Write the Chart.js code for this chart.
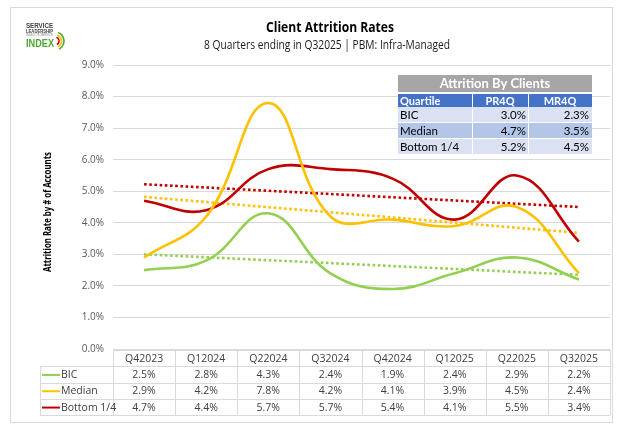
<!DOCTYPE html>
<html><head><meta charset="utf-8">
<script src="https://cdn.jsdelivr.net/npm/chart.js@4.4.1/dist/chart.umd.min.js"></script>
<style>html,body{margin:0;padding:0;background:#fff;}#wrap{position:relative;width:624px;height:430px;}</style>
</head><body><div id="wrap"><canvas id="c" width="624" height="430"></canvas></div>
<script>
const categories = ['Q42023','Q12024','Q22024','Q32024','Q42024','Q12025','Q22025','Q32025'];
const bic    = [2.5, 2.8, 4.3, 2.4, 1.9, 2.4, 2.9, 2.2];
const median = [2.9, 4.2, 7.8, 4.2, 4.1, 3.9, 4.5, 2.4];
const bottom = [4.7, 4.4, 5.7, 5.7, 5.4, 4.1, 5.5, 3.4];
// trendline endpoints (first and last quarter)
const trendBIC    = [3.0, 2.35];
const trendMedian = [4.82, 3.68];
const trendBottom = [5.22, 4.5];
const seriesNames = ['BIC', 'Median', 'Bottom 1/4'];
const yMin = 0, yMax = 9, yStep = 1;
const insetTitle = 'Attrition By Clients';
const insetHeaders = ['Quartile', 'PR4Q', 'MR4Q'];
const insetQuartiles = ['BIC', 'Median', 'Bottom 1/4'];
const insetPR4Q = ['3.0%', '4.7%', '5.2%'];
const insetMR4Q = ['2.3%', '3.5%', '4.5%'];
const titleText = 'Client Attrition Rates';
const subtitleText = '8 Quarters ending in Q32025 | PBM: Infra-Managed';
const yTitleText = 'Attrition Rate by # of Accounts';

const COLORS = ['#92D050', '#FFC000', '#C00000'];
const FONT = '"Open Sans", "Noto Sans", sans-serif';
const seriesData = [bic, median, bottom];
const trendData = [trendBIC, trendMedian, trendBottom];
const fmt = v => v.toFixed(1) + '%';

const datasets = [];
seriesData.forEach((d, i) => {
  datasets.push({label: seriesNames[i], data: d, borderColor: COLORS[i], backgroundColor: COLORS[i],
    borderWidth: 2.6, pointRadius: 0, tension: 0.42, fill: false, order: 1});
});
trendData.forEach((t, i) => {
  datasets.push({label: seriesNames[i] + ' trend',
    data: [{x: categories[0], y: t[0]}, {x: categories[categories.length - 1], y: t[1]}],
    borderColor: COLORS[i], borderWidth: 2.6, borderDash: [2.6, 2.6], borderCapStyle: 'butt',
    pointRadius: 0, tension: 0, fill: false, order: 2});
});

const decor = {
  id: 'decor',
  beforeDraw(chart) {
    const ctx = chart.ctx;
    ctx.save();
    ctx.fillStyle = '#fff';
    ctx.fillRect(0, 0, chart.width, chart.height);
    ctx.strokeStyle = '#D9D9D9';
    ctx.lineWidth = 1;
    ctx.strokeRect(10.5, 7.5, 602, 415);
    ctx.restore();
  },
  afterDraw(chart) {
    const ctx = chart.ctx;
    const ca = chart.chartArea;
    const xs = chart.scales.x;
    ctx.save();
    // ---- logo ----
    ctx.textBaseline = 'alphabetic';
    ctx.textAlign = 'left';
    ctx.fillStyle = '#404040';
    ctx.font = 'bold 8px "Liberation Sans Narrow", "Liberation Sans", sans-serif';
    ctx.fillText('SERVICE', 26, 28, 27);
    ctx.font = 'bold 5px "Liberation Sans Narrow", "Liberation Sans", sans-serif';
    ctx.fillText('LEADERSHIP', 26, 32.5, 27);
    ctx.font = '3px "Liberation Sans", sans-serif';
    ctx.fillStyle = '#808080';
    ctx.fillText('INDEX OF SERVICE', 26, 35.5, 27);
    ctx.fillStyle = '#4EA72E';
    ctx.font = 'bold 11px "Liberation Sans Narrow", "Liberation Sans", sans-serif';
    ctx.fillText('INDEX', 26, 47, 28);
    const sw = [['#C00000', 4], ['#FFC000', 6.5], ['#4EA72E', 9]];
    sw.forEach(([c, r]) => {
      ctx.beginPath();
      ctx.strokeStyle = c; ctx.lineWidth = 1.6;
      ctx.arc(55, 41, r, -1.2, 1.1);
      ctx.stroke();
    });
    // ---- titles ----
    ctx.fillStyle = '#000';
    ctx.textAlign = 'center';
    ctx.textBaseline = 'middle';
    ctx.font = 'bold 14px ' + FONT;
    ctx.fillText(titleText, 330, 28, 128);
    ctx.font = '12px ' + FONT;
    ctx.fillStyle = '#1a1a1a';
    ctx.fillText(subtitleText, 327, 46, 246);
    // ---- y title ----
    ctx.save();
    ctx.translate(48, 212);
    ctx.rotate(-Math.PI / 2);
    ctx.font = 'bold 10px ' + FONT;
    ctx.fillStyle = '#000';
    ctx.fillText(yTitleText, 0, 0, 120);
    ctx.restore();

    // ---- data table ----
    const n = categories.length;
    const colW = ca.width / n;
    const tTop = 350, rh = 16.3;
    const rows = [tTop, tTop + rh, tTop + 2 * rh, tTop + 3 * rh, tTop + 4 * rh];
    const leftX = 40;
    ctx.strokeStyle = '#D9D9D9';
    ctx.lineWidth = 1;
    ctx.beginPath();
    ctx.moveTo(ca.left, Math.round(rows[0]) + 0.5); ctx.lineTo(ca.right, Math.round(rows[0]) + 0.5);
    for (let r = 1; r < rows.length; r++) {
      ctx.moveTo(leftX, Math.round(rows[r]) + 0.5); ctx.lineTo(ca.right, Math.round(rows[r]) + 0.5);
    }
    ctx.moveTo(leftX + 0.5, Math.round(rows[1])); ctx.lineTo(leftX + 0.5, Math.round(rows[4]));
    for (let i = 0; i <= n; i++) {
      const x = Math.round(xs.getPixelForValue(0) - colW / 2 + i * colW) + 0.5;
      ctx.moveTo(x, Math.round(rows[0])); ctx.lineTo(x, Math.round(rows[4]));
    }
    ctx.stroke();
    ctx.font = '10.5px ' + FONT;
    ctx.fillStyle = '#404040';
    ctx.textAlign = 'center';
    ctx.textBaseline = 'middle';
    categories.forEach((c, i) => {
      ctx.fillText(c, xs.getPixelForValue(i), (rows[0] + rows[1]) / 2 + 0.5);
    });
    seriesData.forEach((d, r) => {
      const yc = (rows[r + 1] + rows[r + 2]) / 2 + 0.5;
      d.forEach((v, i) => ctx.fillText(fmt(v), xs.getPixelForValue(i), yc));
    });
    ctx.textAlign = 'left';
    seriesNames.forEach((s, r) => {
      const yc = (rows[r + 1] + rows[r + 2]) / 2 + 0.5;
      ctx.strokeStyle = COLORS[r]; ctx.lineWidth = 2;
      ctx.beginPath(); ctx.moveTo(42, yc); ctx.lineTo(60, yc); ctx.stroke();
      ctx.fillStyle = '#404040';
      ctx.fillText(s, 61, yc);
    });

    // ---- inset table ----
    const iL = 398, iR = 592, c1 = 472, c2 = 528;
    ctx.fillStyle = '#A6A6A6';
    ctx.fillRect(iL, 75, iR - iL, 17);
    ctx.fillStyle = '#4472C4';
    ctx.fillRect(iL, 94, iR - iL, 13);
    const bodyTop = 107, bh = 16;
    const bodyCols = ['#D9E1F2', '#B4C6E7', '#D9E1F2'];
    bodyCols.forEach((col, r) => {
      ctx.fillStyle = col;
      ctx.fillRect(iL, bodyTop + r * bh, iR - iL, bh - 1);
    });
    ctx.strokeStyle = '#ffffff'; ctx.lineWidth = 1;
    ctx.beginPath();
    [c1, c2].forEach(x => { ctx.moveTo(x + 0.5, 94); ctx.lineTo(x + 0.5, bodyTop + 3 * bh); });
    ctx.stroke();
    ctx.fillStyle = '#fff';
    ctx.textAlign = 'center';
    ctx.font = 'bold 13px Lato, ' + FONT;
    ctx.fillText(insetTitle, (iL + iR) / 2, 84);
    ctx.font = 'bold 11px Lato, ' + FONT;
    ctx.textAlign = 'left';
    ctx.fillText(insetHeaders[0], iL + 2, 101);
    ctx.textAlign = 'center';
    ctx.fillText(insetHeaders[1], (c1 + c2) / 2, 101);
    ctx.fillText(insetHeaders[2], (c2 + iR) / 2, 101);
    ctx.font = '11.5px Lato, ' + FONT;
    ctx.fillStyle = '#000';
    insetQuartiles.forEach((q, r) => {
      const yc = bodyTop + r * bh + bh / 2;
      ctx.textAlign = 'left';
      ctx.fillText(q, iL + 2, yc);
      ctx.textAlign = 'right';
      ctx.fillText(insetPR4Q[r], c2 - 2, yc);
      ctx.fillText(insetMR4Q[r], iR - 3, yc);
    });
    ctx.restore();
  }
};

new Chart(document.getElementById('c'), {
  type: 'line',
  data: {labels: categories, datasets},
  options: {
    responsive: false, animation: false, devicePixelRatio: 1,
    layout: {padding: {top: 65, right: 14, left: 0, bottom: 0}},
    plugins: {legend: {display: false}, tooltip: {enabled: false}, title: {display: false}},
    scales: {
      x: {type: 'category', offset: true, grid: {display: false}, border: {display: false},
        ticks: {display: false}, afterFit: s => { s.height = 81; }},
      y: {min: yMin, max: yMax, grid: {color: '#D9D9D9', lineWidth: 1, drawTicks: false}, border: {display: false},
        ticks: {stepSize: yStep, padding: 9, color: '#595959', font: {size: 10, family: FONT}, callback: v => fmt(v)},
        afterFit: s => { s.width = 113; }}
    }
  },
  plugins: [decor]
});
</script></body></html>
